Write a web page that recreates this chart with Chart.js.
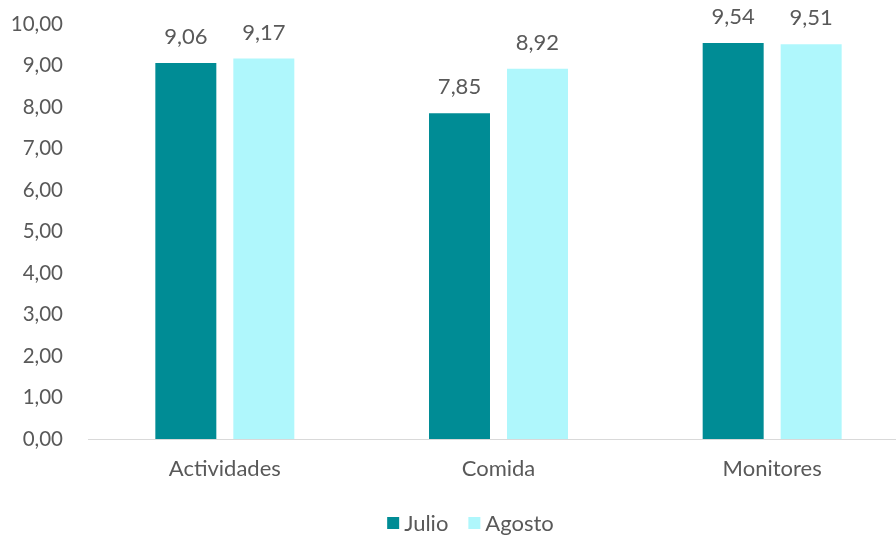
<!DOCTYPE html>
<html>
<head>
<meta charset="utf-8">
<script src="https://cdn.jsdelivr.net/npm/chart.js@4/dist/chart.umd.min.js"></script>
<style>
html,body{margin:0;padding:0;background:#fff;overflow:hidden;width:896px;height:536px;}
canvas{display:block;}
</style>
</head>
<body>
<canvas id="c" width="909" height="536"></canvas>
<script>
const categories = ["Actividades", "Comida", "Monitores"];
const julio = [9.06, 7.85, 9.54];
const agosto = [9.17, 8.92, 9.51];
const seriesNames = ["Julio", "Agosto"];

const FONT = "Lato, 'Open Sans', sans-serif";
const TXT = "#595959";
const fmt = v => v.toFixed(2).replace('.', ',');

const labelPlugin = {
  id: 'dl',
  afterDatasetsDraw(chart) {
    const ctx = chart.ctx;
    ctx.save();
    ctx.fillStyle = TXT;
    ctx.font = "22px " + FONT;
    ctx.textAlign = 'center';
    ctx.textBaseline = 'middle';
    chart.data.datasets.forEach((ds, i) => {
      chart.getDatasetMeta(i).data.forEach((el, j) => {
        ctx.fillText(fmt(ds.data[j]), el.x, el.y - 26);
      });
    });
    ctx.restore();
  }
};

const legendPlugin = {
  id: 'lg',
  afterDraw(chart) {
    const ctx = chart.ctx;
    ctx.save();
    ctx.font = "22px " + FONT;
    ctx.textBaseline = 'middle';
    ctx.textAlign = 'left';
    const box = 12, gap = 5, between = 20, cy = 523, cx = 470.5;
    const items = chart.data.datasets.map(ds => ({ t: ds.label, c: ds.backgroundColor, w: ctx.measureText(ds.label).width }));
    const total = items.reduce((a, it) => a + box + gap + it.w, 0) + between * (items.length - 1);
    let x = cx - total / 2;
    items.forEach(it => {
      ctx.fillStyle = it.c;
      ctx.fillRect(x, cy - box / 2, box, box);
      ctx.fillStyle = TXT;
      ctx.fillText(it.t, x + box + gap, cy + 1);
      x += box + gap + it.w + between;
    });
    ctx.restore();
  }
};

new Chart(document.getElementById('c'), {
  type: 'bar',
  data: {
    labels: categories,
    datasets: [
      { label: seriesNames[0], data: julio, backgroundColor: '#008C95' },
      { label: seriesNames[1], data: agosto, backgroundColor: '#AFF7FC' }
    ]
  },
  options: {
    responsive: false,
    animation: false,
    layout: { padding: { top: 24, left: 0, right: 0, bottom: 0 } },
    datasets: { bar: { categoryPercentage: 0.570, barPercentage: 0.782 } },
    scales: {
      x: {
        grid: { display: false, drawTicks: false },
        border: { display: true, color: '#D9D9D9', width: 1 },
        ticks: { color: TXT, font: { family: FONT, size: 22 }, padding: 17 },
        afterFit: s => { s.height = 97; }
      },
      y: {
        min: 0, max: 10,
        grid: { display: false, drawTicks: false },
        border: { display: false },
        ticks: { stepSize: 1, color: TXT, font: { family: FONT, size: 20.5 }, padding: 25,
                 callback: v => fmt(v) },
        afterFit: s => { s.width = 88; s.paddingTop = 0; s.paddingBottom = 0; }
      }
    },
    plugins: {
      legend: { display: false },
      tooltip: { enabled: false }
    }
  },
  plugins: [labelPlugin, legendPlugin]
});
</script>
</body>
</html>
